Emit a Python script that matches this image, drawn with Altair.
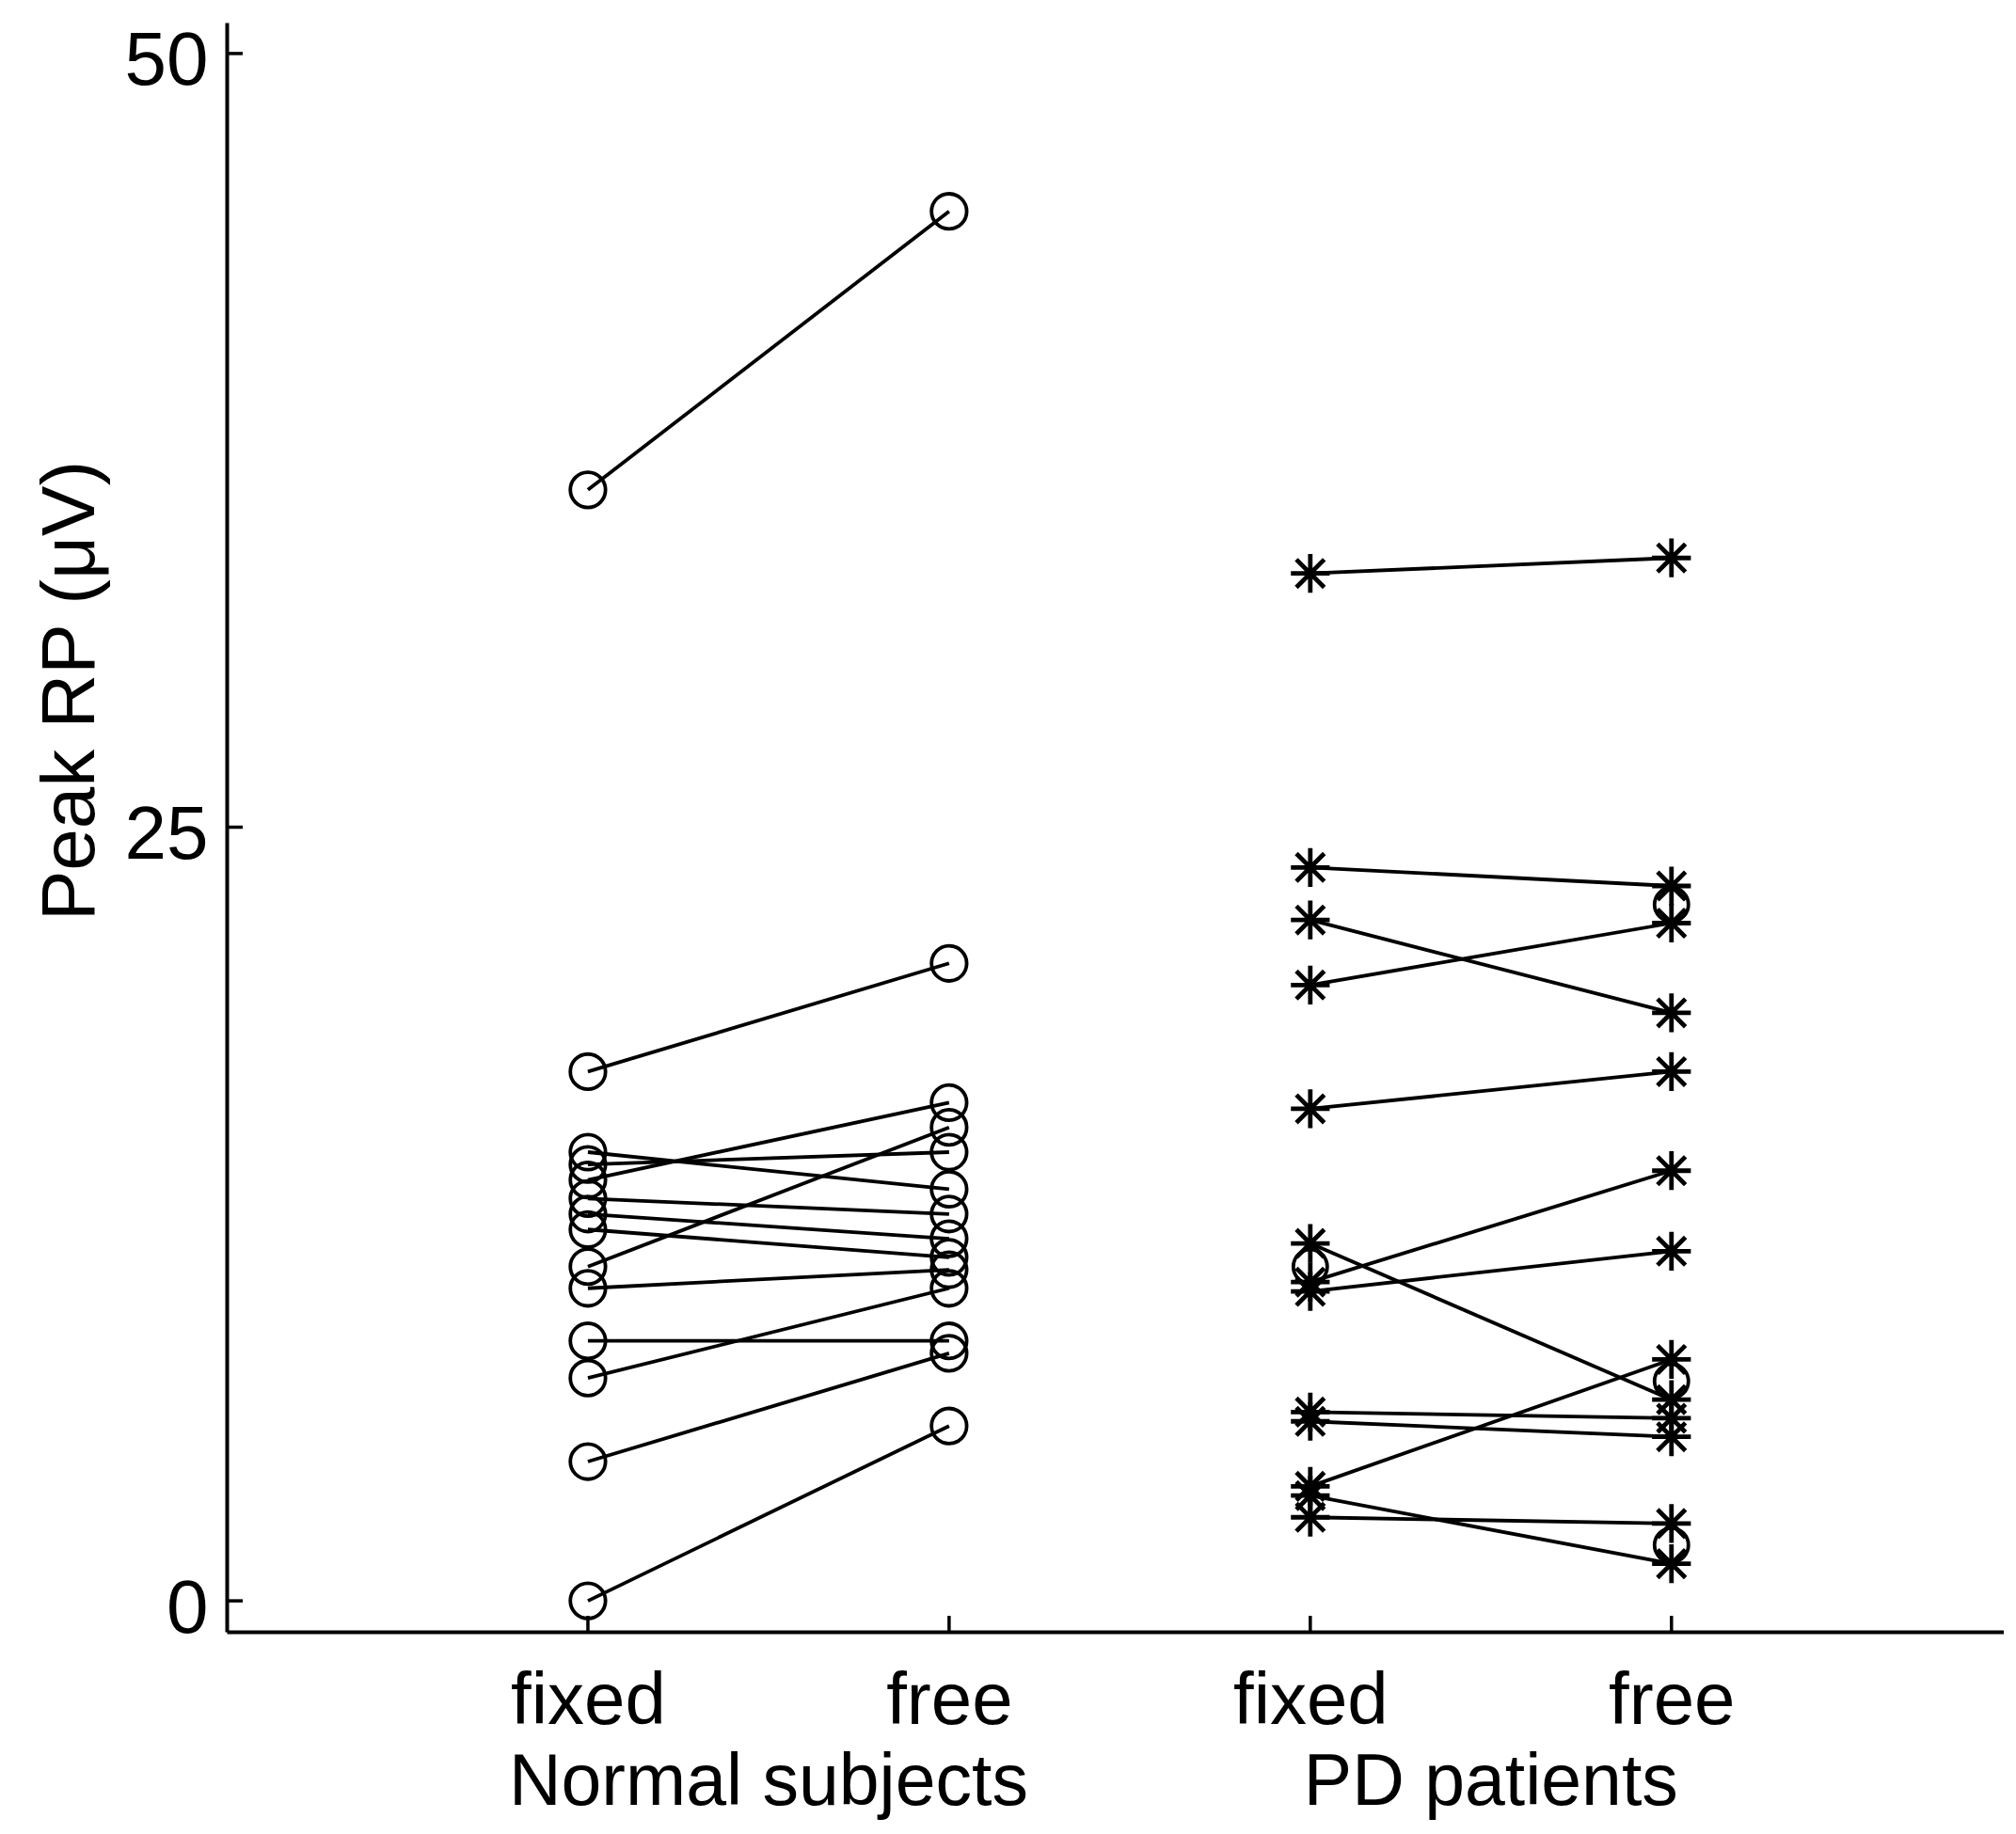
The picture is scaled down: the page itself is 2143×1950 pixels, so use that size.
import altair as alt
import pandas as pd

# ---- data ----
normal_fixed = [35.9, 17.1, 14.5, 14.1, 13.6, 13.0, 12.5, 12.0, 10.8, 10.1, 8.4, 7.2, 4.5, 0.0]
normal_free = [44.9, 20.6, 13.3, 14.5, 16.1, 12.5, 11.7, 11.1, 15.3, 10.7, 8.4, 10.1, 8.0, 5.65]

pd_fixed = [33.2, 23.7, 22.0, 19.9, 15.9, 11.55, 10.3, 10.0, 6.1, 5.8, 3.7, 3.4, 2.7]
pd_free = [33.7, 23.1, 19.0, 21.9, 17.1, 6.5, 13.9, 11.3, 5.9, 5.3, 7.8, 1.2, 2.5]

# extra open-circle markers visible in the patient columns
pd_circle_pos = [3, 4, 4, 4]
pd_circle_val = [10.8, 22.5, 7.1, 1.8]

tick_positions = [1, 2, 3, 4]
tick_labels = ["fixed", "free", "fixed", "free"]
group_names = ["Normal subjects", "PD patients"]
group_centers = [1.5, 3.5]
y_ticks = [0, 25, 50]

# ---- build tables ----
rows = []
for i, (a, b) in enumerate(zip(normal_fixed, normal_free)):
    rows.append({"subj": f"N{i}", "pos": 1, "val": a, "grp": "Normal"})
    rows.append({"subj": f"N{i}", "pos": 2, "val": b, "grp": "Normal"})
for i, (a, b) in enumerate(zip(pd_fixed, pd_free)):
    rows.append({"subj": f"P{i}", "pos": 3, "val": a, "grp": "PD"})
    rows.append({"subj": f"P{i}", "pos": 4, "val": b, "grp": "PD"})
df = pd.DataFrame(rows)
df_circ = pd.DataFrame({"pos": pd_circle_pos, "val": pd_circle_val})
df_groups = pd.DataFrame({"pos": group_centers, "name": group_names})
df_xt = pd.DataFrame({"pos": tick_positions})
df_yt = pd.DataFrame({"val": y_ticks})

W = 1889
H = 1711
FONT = "Liberation Sans"
FS = 80

label_expr = "({" + ",".join(f"'{p}':'{l}'" for p, l in zip(tick_positions, tick_labels)) + "})[datum.value] || ''"

xscale = alt.Scale(domain=[0, 4.92], nice=False, zero=False)
yscale = alt.Scale(domain=[-1, 51], nice=False, zero=False)

xaxis = alt.Axis(
    values=tick_positions, labelExpr=label_expr, ticks=False, tickSize=0,
    grid=False, title=None, domainColor="black", domainWidth=4,
    labelFont=FONT, labelFontSize=78, labelColor="black",
    labelPadding=74, labelBaseline="middle", labelAngle=0,
)
yaxis = alt.Axis(
    values=y_ticks, ticks=False, tickSize=0, grid=False,
    title="Peak RP (\u03bcV)", titleFont=FONT, titleFontSize=FS,
    titleFontWeight="normal", titleColor="black", titleAngle=-90,
    titleX=-166, titleY=710, titleAlign="center", titleBaseline="middle",
    domainColor="black", domainWidth=4,
    labelFont=FONT, labelFontSize=FS, labelColor="black",
    labelPadding=20, labelOffset=9,
)

base = alt.Chart(df)

lines = base.mark_line(color="black", strokeWidth=3.8).encode(
    x=alt.X("pos:Q", scale=xscale, axis=xaxis),
    y=alt.Y("val:Q", scale=yscale, axis=yaxis),
    detail="subj:N",
)

circles = base.transform_filter(alt.datum.grp == "Normal").mark_point(
    shape="circle", filled=False, color="black", size=1400, strokeWidth=3.8, opacity=1
).encode(x=alt.X("pos:Q", scale=xscale), y=alt.Y("val:Q", scale=yscale))

star_path = "M-1,0L1,0M0,-1L0,1M-0.72,-0.72L0.72,0.72M-0.72,0.72L0.72,-0.72"
stars = base.transform_filter(alt.datum.grp == "PD").mark_point(
    shape=star_path, filled=False, color="black", size=1700, strokeWidth=4.8, opacity=1
).encode(x=alt.X("pos:Q", scale=xscale), y=alt.Y("val:Q", scale=yscale))

extra_circles = alt.Chart(df_circ).mark_point(
    shape="circle", filled=False, color="black", size=1300, strokeWidth=3.8, opacity=1
).encode(x=alt.X("pos:Q", scale=xscale), y=alt.Y("val:Q", scale=yscale))

xticks = alt.Chart(df_xt).mark_rule(color="black", strokeWidth=3.5).encode(
    x=alt.X("pos:Q", scale=xscale), y=alt.value(H), y2=alt.value(H - 17)
)
yticks = alt.Chart(df_yt).mark_rule(color="black", strokeWidth=3.5).encode(
    y=alt.Y("val:Q", scale=yscale), x=alt.value(0), x2=alt.value(17)
)

group_text = alt.Chart(df_groups).mark_text(
    font=FONT, fontSize=77, color="black", baseline="middle", align="center"
).encode(
    x=alt.X("pos:Q", scale=xscale), y=alt.value(H + 161), text="name:N"
)

chart = alt.layer(lines, circles, stars, extra_circles, xticks, yticks, group_text).properties(
    width=W, height=H,
    autosize=alt.AutoSizeParams(type="none"),
    padding={"left": 233, "top": 16, "right": 0, "bottom": 204},
    background="white",
).configure_view(stroke=None)

chart.save("out.html", embed_options={"renderer": "svg", "actions": False})
